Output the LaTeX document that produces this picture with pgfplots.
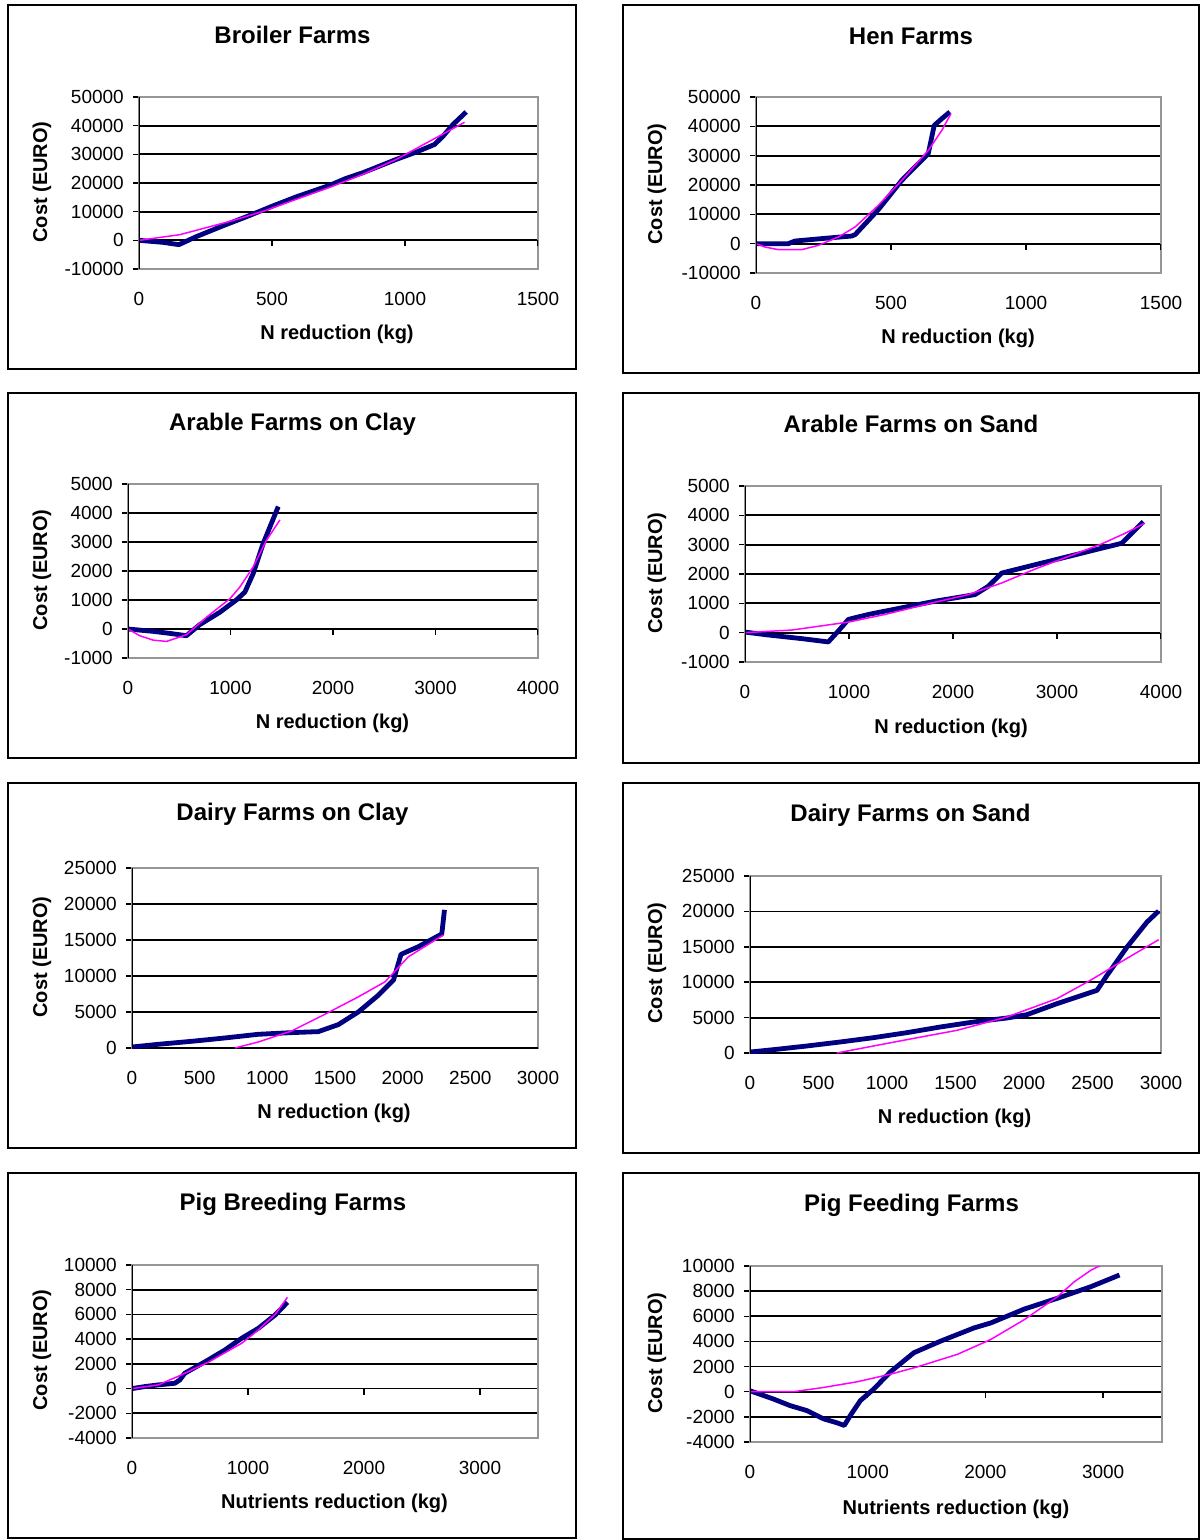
\documentclass[border=0pt]{standalone}
\usepackage{fontspec}
\setmainfont{Liberation Sans}
\usepackage{pgfplots}
\pgfplotsset{compat=1.18}
\definecolor{navyline}{RGB}{0,0,128}
\definecolor{magline}{RGB}{255,0,255}
\definecolor{bordergray}{RGB}{150,150,150}
\pgfplotsset{
  panel/.style={
    scale only axis, anchor=south west,
    scaled ticks=false,
    axis line style={draw=bordergray, line width=1.8pt},
    ymajorgrids, major grid style={black, line width=1.8pt},
    ytick pos=left, tick align=outside,
    major tick length=6pt,
    ytick style={black, line width=1.5pt},
    xtick style={draw=none},
    tick label style={font=\fontsize{19}{22}\selectfont},
    yticklabel style={anchor=east, inner sep=0pt, xshift=-9pt},
    xticklabel style={anchor=center, yshift=-23.5pt},
  },
  costline/.style={navyline, line width=4.8pt, line join=round},
  fitline/.style={magline, line width=1.5pt},
}
\newcommand{\ttl}[2]{\node[font=\fontsize{24}{28}\selectfont\bfseries] at (#1) {#2};}
\newcommand{\xlab}[2]{\node[font=\fontsize{20}{24}\selectfont\bfseries] at (#1) {#2};}
\newcommand{\ylab}[1]{\node[rotate=90,font=\fontsize{20}{24}\selectfont\bfseries] at (#1) {Cost (EURO)};}
\begin{document}
\begin{tikzpicture}
\useasboundingbox (0pt,0pt) rectangle (1200pt,-1540pt);
% panel boxes
\draw[black,line width=1.5pt] (8pt,-5pt) rectangle (576pt,-369pt);
\draw[black,line width=1.5pt] (623pt,-5pt) rectangle (1199pt,-373pt);
\draw[black,line width=1.5pt] (8pt,-393pt) rectangle (576pt,-758pt);
\draw[black,line width=1.5pt] (623pt,-393pt) rectangle (1199pt,-763pt);
\draw[black,line width=1.5pt] (8pt,-783pt) rectangle (576pt,-1148pt);
\draw[black,line width=1.5pt] (623pt,-783pt) rectangle (1199pt,-1153pt);
\draw[black,line width=1.5pt] (8pt,-1173pt) rectangle (576pt,-1538pt);
\draw[black,line width=1.5pt] (623pt,-1173pt) rectangle (1199pt,-1539pt);

% ---------- Broiler Farms
\begin{axis}[panel, at={(139pt,-269pt)}, width=399pt, height=172pt,
  xmin=0, xmax=1500, ymin=-10000, ymax=50000,
  xtick={0,500,1000,1500}, xticklabels={0,500,1000,1500},
  ytick={-10000,0,10000,20000,30000,40000,50000},
  yticklabels={-10000,0,10000,20000,30000,40000,50000}]
\pgfplotsinvokeforeach{500,1000,1500}{\draw[black,line width=1.5pt] (axis cs:#1,0) -- ++(0pt,-6pt);}
\addplot[costline] coordinates {(0,0) (90,-700) (150,-1500) (215,1270) (316,5090) (403,8200) (504,12030) (591,15160) (717,19200) (779,21640) (842,23600) (967,28230) (1042,30780) (1111,33440) (1143,36330) (1180,40380) (1230,44780)};
\addplot[fitline] coordinates {(0,0) (153,1970) (341,6600) (466,10100) (591,14300) (717,18500) (842,23000) (967,28230) (1093,34590) (1224,41190)};
\draw[black,line width=1.5pt] (rel axis cs:0,0) -- (rel axis cs:0,1);
\end{axis}
\ttl{292.5pt,-35pt}{Broiler Farms}
\xlab{337pt,-334pt}{N reduction (kg)}
\ylab{42pt,-182pt}

% ---------- Hen Farms
\begin{axis}[panel, at={(756pt,-273pt)}, width=405pt, height=176pt,
  xmin=0, xmax=1500, ymin=-10000, ymax=50000,
  xtick={0,500,1000,1500}, xticklabels={0,500,1000,1500},
  ytick={-10000,0,10000,20000,30000,40000,50000},
  yticklabels={-10000,0,10000,20000,30000,40000,50000}]
\pgfplotsinvokeforeach{500,1000,1500}{\draw[black,line width=1.5pt] (axis cs:#1,0) -- ++(0pt,-6pt);}
\addplot[costline] coordinates {(0,0) (120,0) (144,900) (268,1930) (354,2600) (367,3070) (453,11590) (540,21600) (638,30700) (660,40300) (688,42600) (718,44900)};
\addplot[fitline] coordinates {(0,0) (33,-1140) (83,-2045) (169,-2045) (231,-570) (305,2270) (367,5680) (453,13060) (540,21600) (638,31800) (688,38600) (722,44300)};
\draw[black,line width=1.5pt] (rel axis cs:0,0) -- (rel axis cs:0,1);
\end{axis}
\ttl{911pt,-36pt}{Hen Farms}
\xlab{958pt,-338pt}{N reduction (kg)}
\ylab{657pt,-184pt}

% ---------- Arable Farms on Clay
\begin{axis}[panel, at={(128pt,-658pt)}, width=410pt, height=174pt,
  xmin=0, xmax=4000, ymin=-1000, ymax=5000,
  xtick={0,1000,2000,3000,4000}, xticklabels={0,1000,2000,3000,4000},
  ytick={-1000,0,1000,2000,3000,4000,5000},
  yticklabels={-1000,0,1000,2000,3000,4000,5000}]
\pgfplotsinvokeforeach{1000,2000,3000,4000}{\draw[black,line width=1.5pt] (axis cs:#1,0) -- ++(0pt,-6pt);}
\addplot[costline] coordinates {(0,0) (244,-81) (407,-150) (570,-231) (700,150) (896,578) (1059,1007) (1140,1273) (1221,1909) (1319,2950) (1466,4223)};
\addplot[fitline] coordinates {(0,0) (114,-231) (244,-382) (375,-428) (570,-197) (765,405) (993,1041) (1091,1446) (1221,2140) (1352,3066) (1482,3760)};
\draw[black,line width=1.5pt] (rel axis cs:0,0) -- (rel axis cs:0,1);
\end{axis}
\ttl{292.5pt,-424pt}{Arable Farms on Clay}
\xlab{332.5pt,-723pt}{N reduction (kg)}
\ylab{42pt,-570pt}

% ---------- Arable Farms on Sand
\begin{axis}[panel, at={(745pt,-662pt)}, width=416pt, height=176pt,
  xmin=0, xmax=4000, ymin=-1000, ymax=5000,
  xtick={0,1000,2000,3000,4000}, xticklabels={0,1000,2000,3000,4000},
  ytick={-1000,0,1000,2000,3000,4000,5000},
  yticklabels={-1000,0,1000,2000,3000,4000,5000}]
\pgfplotsinvokeforeach{1000,2000,3000,4000}{\draw[black,line width=1.5pt] (axis cs:#1,0) -- ++(0pt,-6pt);}
\addplot[costline] coordinates {(0,20) (224,-79) (545,-203) (801,-316) (897,56) (994,452) (1186,621) (1506,847) (1827,1073) (2211,1298) (2339,1581) (2468,2032) (2788,2315) (3109,2597) (3429,2879) (3622,3048) (3830,3782)};
\addplot[fitline] coordinates {(0,0) (449,90) (994,361) (1346,621) (1827,1039) (2147,1298) (2468,1694) (2788,2168) (3109,2597) (3429,3026) (3654,3387) (3840,3726)};
\draw[black,line width=1.5pt] (rel axis cs:0,0) -- (rel axis cs:0,1);
\end{axis}
\ttl{911pt,-424pt}{Arable Farms on Sand}
\xlab{951pt,-728pt}{N reduction (kg)}
\ylab{657pt,-573pt}

% ---------- Dairy Farms on Clay
\begin{axis}[panel, at={(132pt,-1048pt)}, width=406pt, height=180pt,
  xmin=0, xmax=3000, ymin=0, ymax=25000,
  xtick={0,500,1000,1500,2000,2500,3000}, xticklabels={0,500,1000,1500,2000,2500,3000},
  ytick={0,5000,10000,15000,20000,25000},
  yticklabels={0,5000,10000,15000,20000,25000}]
\draw[black,line width=1.8pt] (axis cs:0,0) -- (axis cs:3000,0);
\pgfplotsinvokeforeach{500,1000,1500,2000,2500,3000}{\draw[black,line width=1.5pt] (axis cs:#1,0) -- ++(0pt,-6pt);}
\addplot[costline] coordinates {(0,140) (192,511) (439,929) (686,1394) (933,1905) (1179,2138) (1377,2277) (1525,3253) (1673,5019) (1821,7342) (1932,9433) (1988,13012) (2117,14080) (2289,15846) (2309,19190)};
\addplot[fitline] coordinates {(760,0) (933,836) (1179,2370) (1426,4693) (1673,7110) (1870,9200) (2043,12686) (2302,15707)};
\draw[black,line width=1.5pt] (rel axis cs:0,0) -- (rel axis cs:0,1);
\end{axis}
\ttl{292.5pt,-814pt}{Dairy Farms on Clay}
\xlab{334pt,-1113pt}{N reduction (kg)}
\ylab{42pt,-957pt}

% ---------- Dairy Farms on Sand
\begin{axis}[panel, at={(750pt,-1053pt)}, width=411pt, height=177pt,
  xmin=0, xmax=3000, ymin=0, ymax=25000,
  xtick={0,500,1000,1500,2000,2500,3000}, xticklabels={0,500,1000,1500,2000,2500,3000},
  ytick={0,5000,10000,15000,20000,25000},
  yticklabels={0,5000,10000,15000,20000,25000}]
\draw[black,line width=1.8pt] (axis cs:0,0) -- (axis cs:3000,0);
\pgfplotsinvokeforeach{500,1000,1500,2000,2500,3000}{\draw[black,line width=1.5pt] (axis cs:#1,0) -- ++(0pt,-6pt);}
\addplot[costline] coordinates {(0,141) (170,471) (414,989) (657,1554) (901,2166) (1144,2872) (1388,3672) (1631,4378) (1875,4943) (2021,5414) (2240,6968) (2533,8851) (2606,10970) (2752,14971) (2898,18502) (2983,20056)};
\addplot[fitline] coordinates {(633,0) (901,989) (1144,1883) (1510,3201) (1875,5085) (2240,7674) (2484,10263) (2727,13088) (2983,16007)};
\draw[black,line width=1.5pt] (rel axis cs:0,0) -- (rel axis cs:0,1);
\end{axis}
\ttl{910.5pt,-815pt}{Dairy Farms on Sand}
\xlab{954.5pt,-1118pt}{N reduction (kg)}
\ylab{657pt,-963pt}

% ---------- Pig Breeding Farms
\begin{axis}[panel, at={(132pt,-1438pt)}, width=406pt, height=173pt,
  xmin=0, xmax=3500, ymin=-4000, ymax=10000,
  xtick={0,1000,2000,3000}, xticklabels={0,1000,2000,3000},
  ytick={-4000,-2000,0,2000,4000,6000,8000,10000},
  yticklabels={-4000,-2000,0,2000,4000,6000,8000,10000}]
\pgfplotsinvokeforeach{1000,2000,3000}{\draw[black,line width=1.5pt] (axis cs:#1,0) -- ++(0pt,-6pt);}
\addplot[costline] coordinates {(0,0) (110,162) (225,296) (369,431) (412,701) (455,1240) (657,2318) (801,3126) (945,4069) (1089,4878) (1234,5956) (1340,6980)};
\addplot[fitline] coordinates {(0,0) (225,296) (412,1051) (657,2129) (945,3665) (1089,4743) (1234,6010) (1340,7384)};
\draw[black,line width=1.5pt] (rel axis cs:0,0) -- (rel axis cs:0,1);
\end{axis}
\ttl{293pt,-1204pt}{Pig Breeding Farms}
\xlab{334.5pt,-1503pt}{Nutrients reduction (kg)}
\ylab{42pt,-1350pt}

% ---------- Pig Feeding Farms
\begin{axis}[panel, at={(750pt,-1442pt)}, width=412pt, height=176pt,
  xmin=0, xmax=3500, ymin=-4000, ymax=10000,
  xtick={0,1000,2000,3000}, xticklabels={0,1000,2000,3000},
  ytick={-4000,-2000,0,2000,4000,6000,8000,10000},
  yticklabels={-4000,-2000,0,2000,4000,6000,8000,10000}]
\pgfplotsinvokeforeach{1000,2000,3000}{\draw[black,line width=1.5pt] (axis cs:#1,0) -- ++(0pt,-6pt);}
\addplot[costline] coordinates {(0,79) (199,-579) (341,-1105) (483,-1499) (625,-2157) (739,-2472) (801,-2683) (852,-1894) (937,-710) (1051,210) (1193,1578) (1392,3103) (1619,4024) (1903,5076) (2045,5470) (2330,6575) (2614,7443) (2898,8363) (3139,9284)};
\addplot[fitline] coordinates {(0,0) (369,0) (625,342) (909,789) (1193,1394) (1420,1973) (1761,2972) (2045,4155) (2330,5733) (2614,7574) (2756,8758) (2898,9678) (2983,10073) (3100,11200)};
\draw[black,line width=1.5pt] (rel axis cs:0,0) -- (rel axis cs:0,1);
\end{axis}
\ttl{911.5pt,-1205pt}{Pig Feeding Farms}
\xlab{956pt,-1509pt}{Nutrients reduction (kg)}
\ylab{657pt,-1353pt}
\end{tikzpicture}
\end{document}
